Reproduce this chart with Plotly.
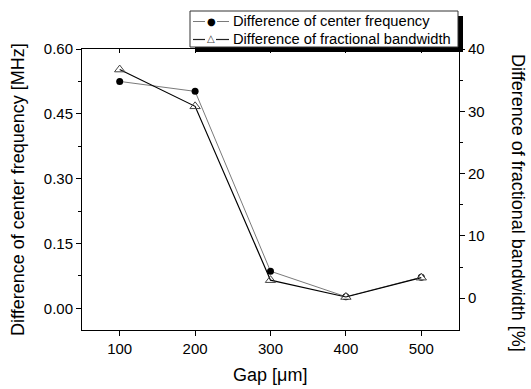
import plotly.graph_objects as go

gap = [100, 200, 300, 400, 500]
center_freq_diff = [0.525, 0.502, 0.086, 0.027, 0.072]   # MHz
frac_bw_diff = [36.7, 30.8, 2.9, 0.2, 3.3]               # %
series_names = ["Difference of center frequency", "Difference of fractional bandwidth"]

L, R, T, B = 82, 72, 49, 59
W, H = 531, 389
pw, ph = W - L - R, H - T - B

def px(x):
    return (x - L) / pw

def py(y):
    return (H - B - y) / ph

FONT = "Liberation Sans, Arial, sans-serif"
GRAY = "#7a7a7a"

fig = go.Figure()
fig.add_trace(go.Scatter(
    x=gap, y=center_freq_diff, name=series_names[0],
    mode="lines+markers", yaxis="y",
    line=dict(color=GRAY, width=1),
    marker=dict(symbol="circle", size=7, color="black", line=dict(width=0)),
))
fig.add_trace(go.Scatter(
    x=gap, y=frac_bw_diff, yaxis="y2", mode="markers", showlegend=False,
    hoverinfo="skip",
    marker=dict(symbol="triangle-up", size=8, color="white", line=dict(width=0)),
))
fig.add_trace(go.Scatter(
    x=gap, y=frac_bw_diff, name=series_names[1],
    mode="lines+markers", yaxis="y2",
    line=dict(color="black", width=1.2),
    marker=dict(symbol="triangle-up-open", size=9, color="#444444",
                line=dict(width=1)),
))
fig.add_trace(go.Scatter(x=[50], y=[None], xaxis="x2", showlegend=False,
                         hoverinfo="skip"))

axis_common = dict(
    showgrid=False, zeroline=False, linecolor="black", linewidth=1,
    ticks="outside", ticklen=5, tickwidth=1, tickcolor="black",
    tickfont=dict(family=FONT, size=15, color="black"),
)

fig.update_layout(
    width=W, height=H,
    margin=dict(l=L, r=R, t=T, b=B),
    paper_bgcolor="white", plot_bgcolor="white",
    font=dict(family=FONT, color="black"),
    showlegend=False,
    xaxis=dict(range=[50, 550], tickvals=gap,
               showline=True, **axis_common),
    xaxis2=dict(range=[50, 550], overlaying="x", side="top",
                tickvals=gap, showticklabels=False,
                showline=True, linecolor="black", linewidth=1,
                ticks="inside", ticklen=4, tickcolor="black",
                showgrid=False, zeroline=False),
    yaxis=dict(range=[-0.05, 0.60], tickvals=[0.0, 0.15, 0.30, 0.45, 0.60],
               tickformat=".2f", showline=True,
               minor=dict(tickvals=[0.075, 0.225, 0.375, 0.525], ticks="outside",
                          ticklen=3, tickcolor="black"),
               **axis_common),
    yaxis2=dict(range=[-5.1, 40], tickvals=[0, 10, 20, 30, 40], overlaying="y",
                side="right", showline=True,
                minor=dict(tickvals=[5, 15, 25, 35], ticks="outside",
                           ticklen=3, tickcolor="black"),
                **axis_common),
)

# ---- legend box (hand-built to match the compact original) ----
def rect(x0, y0, x1, y1, **kw):
    fig.add_shape(type="rect", xref="paper", yref="paper",
                  x0=px(x0), x1=px(x1), y0=py(y1), y1=py(y0), layer="above", **kw)

def seg(x0, x1, y, color, width):
    fig.add_shape(type="line", xref="paper", yref="paper",
                  x0=px(x0), x1=px(x1), y0=py(y), y1=py(y), layer="above",
                  line=dict(color=color, width=width))

rect(195, 16, 463, 52, fillcolor="black", line=dict(width=0))
rect(190, 11, 458, 47, fillcolor="white", line=dict(color="#333333", width=1))

rows = [21.5, 39.5]
seg(193, 205, rows[0], GRAY, 1)
seg(217, 229, rows[0], GRAY, 1)
seg(193, 205, rows[1], "#222222", 1.2)
seg(216, 229, rows[1], "#222222", 1.2)

fig.add_annotation(text="●", xref="paper", yref="paper", x=px(211), y=py(rows[0]),
                   showarrow=False, xanchor="center", yanchor="middle",
                   font=dict(family="DejaVu Sans", size=10, color="black"))
fig.add_annotation(text="△", xref="paper", yref="paper", x=px(210.5), y=py(rows[1] - 0.5),
                   showarrow=False, xanchor="center", yanchor="middle",
                   font=dict(family="DejaVu Sans", size=10, color="#444444"))
for name, ry in zip(series_names, rows):
    fig.add_annotation(text=name, xref="paper", yref="paper", x=px(231), y=py(ry),
                       showarrow=False, xanchor="left", yanchor="middle",
                       font=dict(family=FONT, size=14.7, color="black"))

fig.add_annotation(text="Gap [μm]", xref="paper", yref="paper",
                   x=px(270), y=py(375), showarrow=False,
                   font=dict(family=FONT, size=18), xanchor="center", yanchor="middle")
fig.add_annotation(text="Difference of center frequency [MHz]", xref="paper", yref="paper",
                   x=px(18), y=py(190), showarrow=False, textangle=-90,
                   font=dict(family=FONT, size=18), xanchor="center", yanchor="middle")
fig.add_annotation(text="Difference of fractional bandwidth [%]", xref="paper", yref="paper",
                   x=px(518), y=py(203), showarrow=False, textangle=90,
                   font=dict(family=FONT, size=18), xanchor="center", yanchor="middle")

fig.write_html("out.html")
